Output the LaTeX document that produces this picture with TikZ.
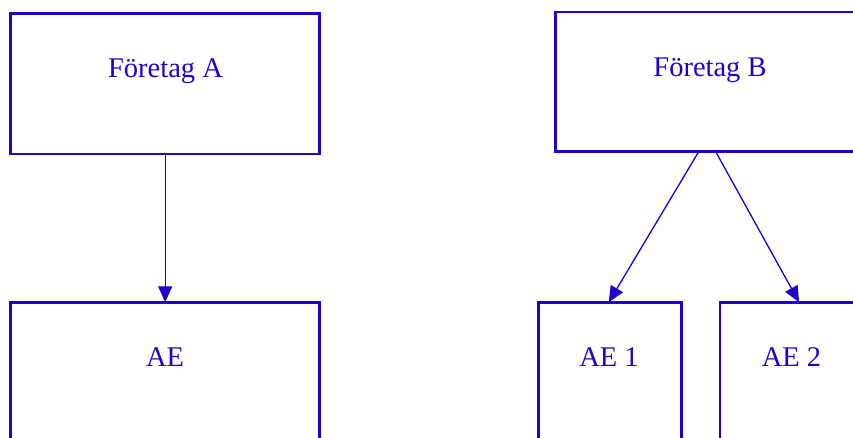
\documentclass[tikz,border=0pt]{standalone}
\usepackage{fontspec}
\setmainfont{Liberation Serif}
\usetikzlibrary{arrows.meta}
\definecolor{ink}{RGB}{34,0,204}
\begin{document}
\begin{tikzpicture}[x=1pt,y=-1pt,
  box/.style={draw=ink,line width=2.6pt,rectangle,inner sep=0pt,outer sep=0pt,anchor=north west},
  lbl/.style={text=ink,font=\fontsize{28.5}{31}\selectfont,anchor=base,inner sep=0pt},
  conn/.style={draw=ink,line width=1.3pt,-{Triangle[length=16pt,width=14pt]}}]
\useasboundingbox (0,0) rectangle (853,437);
\clip (0,0) rectangle (853,437);
\fill[white] (0,0) rectangle (853,437);
% boxes
\node[box,minimum width=309pt,minimum height=140.5pt] (fa) at (10.7,13.3) {};
\node[box,minimum width=309pt,minimum height=139.7pt] (fb) at (555.7,12) {};
\node[box,minimum width=309pt,minimum height=145pt] (ae) at (10.7,302.3) {};
\node[box,minimum width=143.4pt,minimum height=145pt] (ae1) at (538.3,302.3) {};
\node[box,minimum width=143pt,minimum height=145pt] (ae2) at (720,302.3) {};
% labels
\node[lbl] (tfa) at (165.5,77) {Företag A};
\node[lbl] (tfb) at (710,76) {Företag B};
\node[lbl] (tae) at (165,366) {AE};
\node[lbl] (tae1) at (609,366.5) {AE 1};
\node[lbl] (tae2) at (791.5,366.5) {AE 2};
% connectors
\draw[conn] (fa.south) -- (ae.north);
\draw[conn] ([xshift=-11.5pt]fb.south) -- ([xshift=-1.3pt]ae1.north);
\draw[conn] ([xshift=5.5pt]fb.south) -- ([xshift=7.6pt]ae2.north);
\end{tikzpicture}
\end{document}
